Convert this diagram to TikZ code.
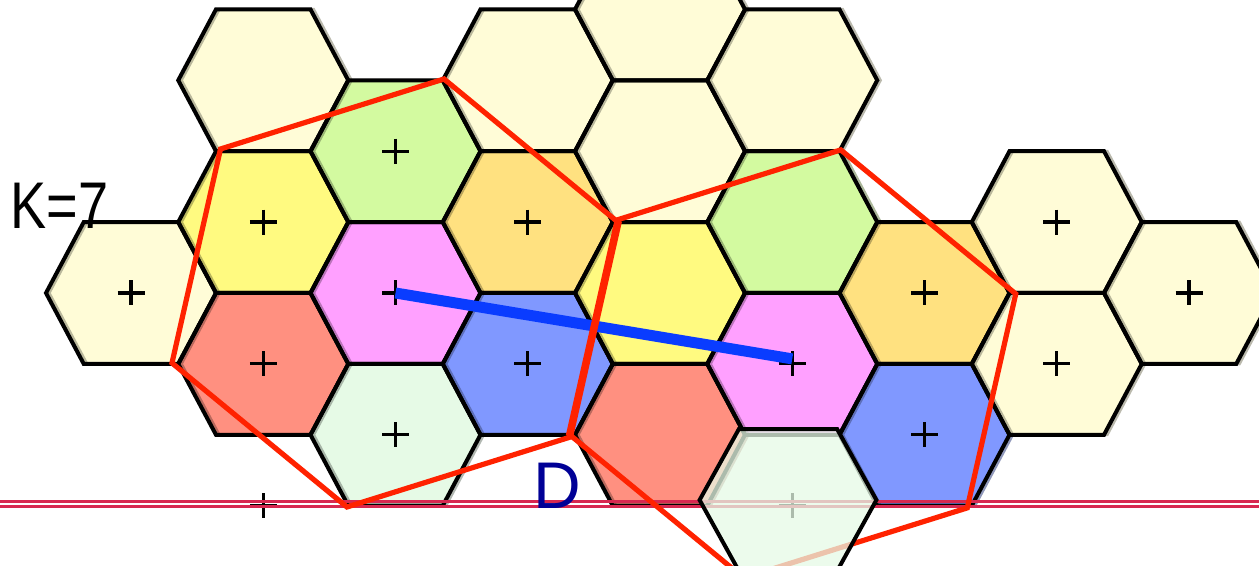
\documentclass[tikz,border=0pt]{standalone}
\usepackage{fontspec}
\setmainfont{Liberation Sans}
\newfontfamily\kfont[FakeStretch=0.82]{Liberation Sans}
\definecolor{cpale}{RGB}{255,252,215}
\definecolor{cyellow}{RGB}{255,250,128}
\definecolor{cgreen}{RGB}{211,250,160}
\definecolor{cpink}{RGB}{255,160,255}
\definecolor{corange}{RGB}{255,225,128}
\definecolor{cblue}{RGB}{128,152,255}
\definecolor{cred}{RGB}{255,144,128}
\definecolor{clgreen}{RGB}{230,250,230}
\definecolor{polyred}{RGB}{255,34,0}
\definecolor{linered}{RGB}{215,40,80}
\definecolor{lineblue}{RGB}{10,60,255}
\definecolor{dtext}{RGB}{0,0,150}
\tikzset{
  hexfill/.style={fill=#1},
  hexshadow/.style={draw=#1!55!black, draw opacity=0.6, line width=1.4pt},
  hexline/.style={draw=black, line width=2pt, line join=miter},
  plusmark/.style={draw=black, line width=1.6pt},
  redpoly/.style={draw=polyred, line width=2.6pt, line join=miter},
  bluebar/.style={draw=lineblue, line width=5.5pt},
  hline/.style={draw=linered, line width=1.4pt},
}
\newcommand\hexshape{(-85,0) -- (-47.25,-70.9) -- (47.25,-70.9) -- (85,0) -- (47.25,70.9) -- (-47.25,70.9) -- cycle}
\newcommand\hexcell[2]{%
  \path[hexfill=#2, shift={(#1)}] \hexshape;
  \path[hexshadow=#2, shift={(#1)}, xshift=1.6pt] \hexshape;
}
\newcommand\hexedge[1]{\path[hexline, shift={(#1)}] \hexshape;}
\newcommand\plusat[1]{\path[plusmark, shift={(#1)}] (-13.5,0) -- (13.5,0) (0,-12.5) -- (0,12.5);}
\begin{document}
\begin{tikzpicture}[x=0.5pt,y=-0.5pt]
\useasboundingbox (0,0) rectangle (1259,566);
\foreach \i in {0,...,8}{\foreach \k in {-4,...,3}{
  \coordinate (c-\i-\k) at ({131+132.25*\i},{293+70.9*\k});}}
\coordinate (ov) at (788,500);
% hexagon fills
\hexcell{c-0-0}{cpale}
\hexcell{c-1--3}{cpale}
\hexcell{c-1--1}{cyellow}
\hexcell{c-1-1}{cred}
\hexcell{c-2--2}{cgreen}
\hexcell{c-2-0}{cpink}
\hexcell{c-2-2}{clgreen}
\hexcell{c-3--3}{cpale}
\hexcell{c-3--1}{corange}
\hexcell{c-3-1}{cblue}
\hexcell{c-4--4}{cpale}
\hexcell{c-4--2}{cpale}
\hexcell{c-4-0}{cyellow}
\hexcell{c-4-2}{cred}
\hexcell{c-5--3}{cpale}
\hexcell{c-5--1}{cgreen}
\hexcell{c-5-1}{cpink}
\hexcell{c-6-0}{corange}
\hexcell{c-6-2}{cblue}
\hexcell{c-7--1}{cpale}
\hexcell{c-7-1}{cpale}
\hexcell{c-8-0}{cpale}
% hexagon outlines
\foreach \c in {c-0-0,c-1--3,c-1--1,c-1-1,c-2--2,c-2-0,c-2-2,c-3--3,c-3--1,c-3-1,
  c-4--4,c-4--2,c-4-0,c-4-2,c-5--3,c-5--1,c-5-1,c-6-0,c-6-2,c-7--1,c-7-1,c-8-0}{\hexedge{\c}}
% centre marks
\foreach \c in {c-0-0,c-1--1,c-1-1,c-1-3,c-2--2,c-2-0,c-2-2,c-3--1,c-3-1,
  c-5-1,c-5-3,c-6-0,c-6-2,c-7--1,c-7-1,c-8-0}{\plusat{\c}}
% double horizontal line
\coordinate (hl0) at (0,501.5);
\coordinate (hl1) at (1259,501.5);
\coordinate (hm0) at (0,506.8);
\coordinate (hm1) at (1259,506.8);
\path[hline] (hl0) -- (hl1);
\path[hline] (hm0) -- (hm1);
% distance line
\path[bluebar] (c-2-0) -- ([yshift=2.5pt]c-5-1);
% cluster outlines
\path[redpoly, shift={(c-2-0)}] (-175,-144) -- (48.5,-214) -- (223.5,-70) -- (175,144) -- (-48.5,214) -- (-223.5,70) -- cycle;
\path[redpoly, shift={(c-5-1)}] (-175,-144) -- (48.5,-214) -- (223.5,-70) -- (175,144) -- (-48.5,214) -- (-223.5,70) -- cycle;
% overlay cell at the bottom
\path[fill=clgreen, fill opacity=0.75, shift={(ov)}, xscale=1.04] \hexshape;
\path[hexline, shift={(ov)}, xscale=1.04] \hexshape;
% labels
\node[anchor=base west, inner sep=0pt, font=\kfont\fontsize{33}{38}\selectfont] (klabel) at (10,229) {K=7};
\node[anchor=base west, inner sep=0pt, text=dtext, font=\fontsize{33}{38}\selectfont] (dlabel) at (533,509) {D};
\end{tikzpicture}
\end{document}
